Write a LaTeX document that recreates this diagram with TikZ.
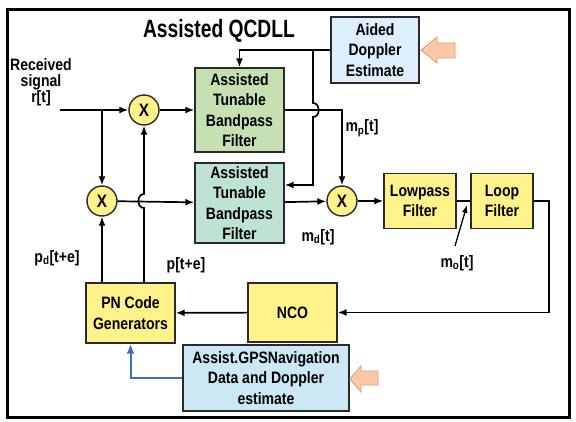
\documentclass[tikz,border=0pt]{standalone}
\usepackage{fontspec}
\setmainfont{Liberation Sans}[FakeStretch=0.85]
\newfontfamily\titlefont{Liberation Sans}[FakeStretch=0.77]
\usetikzlibrary{arrows.meta}
\definecolor{yel}{HTML}{FFF28A}
\definecolor{grnA}{HTML}{C6E0B4}
\definecolor{grnB}{HTML}{BFE3D2}
\definecolor{bluA}{HTML}{DDEFFA}
\definecolor{bluB}{HTML}{CCE8F4}
\definecolor{orf}{HTML}{F9C8A6}
\definecolor{ord}{HTML}{DE9A72}
\definecolor{bline}{HTML}{3F6FC4}
\definecolor{bord}{HTML}{2A2A2A}
\tikzset{
  txt/.style={font=\fontsize{16.5}{20.5}\selectfont\bfseries, inner sep=0pt, align=center},
  boxstyle/.style={txt, draw=bord, line width=1.4pt},
  mult/.style={circle, draw=bord, line width=1.4pt, fill=yel, minimum size=30pt, inner sep=0pt, font=\fontsize{18}{18}\selectfont\bfseries},
  lbl/.style={font=\fontsize{16.5}{18}\selectfont\bfseries, inner sep=0pt, align=center},
  arr/.style={line width=1.7pt, draw=black, -{Latex[length=9pt,width=7pt]}},
  ln/.style={line width=1.7pt, draw=black},
  barr/.style={line width=2pt, draw=bline, -{Latex[length=10pt,width=8pt]}},
  orarrow/.style={fill=orf, draw=ord, line width=0.8pt}
}
\begin{document}
\begin{tikzpicture}[x=1pt,y=-1pt]
\useasboundingbox (0,0) rectangle (576,422);
\draw[line width=3pt] (7,10) rectangle (569,417);

\node[font=\titlefont\fontsize{25}{26}\selectfont\bfseries, inner sep=0pt] (title) at (219,31) {Assisted QCDLL};

% boxes
\node[boxstyle, fill=bluA, minimum width=88pt, minimum height=66pt] (aided) at (375,50) {Aided\\Doppler\\Estimate};
\node[boxstyle, fill=grnA, minimum width=89pt, minimum height=84pt] (filterA) at (239.5,110) {Assisted\\Tunable\\Bandpass\\Filter};
\node[boxstyle, fill=grnB, minimum width=89pt, minimum height=80pt] (filterB) at (239.5,203) {Assisted\\Tunable\\Bandpass\\Filter};
\node[boxstyle, fill=yel, minimum width=72pt, minimum height=55pt] (lowpass) at (420,201) {Lowpass\\Filter};
\node[boxstyle, fill=yel, minimum width=62pt, minimum height=55pt] (loop) at (502,201) {Loop\\Filter};
\node[boxstyle, fill=yel, minimum width=89pt, minimum height=60pt] (PN) at (130.5,313) {PN Code\\Generators};
\node[boxstyle, fill=yel, minimum width=89pt, minimum height=59pt] (NCO) at (292.5,312.5) {NCO};
\node[boxstyle, fill=bluB, minimum width=166pt, minimum height=66pt] (assist) at (266,378) {Assist.GPSNavigation\\Data and Doppler\\estimate};

% multipliers
\node[mult] (mult1) at (144,110) {X};
\node[mult] (mult2) at (102,201) {X};
\node[mult] (mult3) at (342,201) {X};

% orange input arrows
\draw[orarrow] (421,50) -- (437,37) -- (437,43) -- (455,43) -- (455,58) -- (437,58) -- (437,63) -- cycle;
\draw[orarrow] (350,379) -- (361,366) -- (361,371) -- (378,371) -- (378,385) -- (361,385) -- (361,392) -- cycle;

% labels
\node[lbl, font=\fontsize{16.5}{16}\selectfont\bfseries] (recv) at (41,82) {Received\\signal\\r[t]};
\node[lbl] (mp) at (362,128) {m\textsubscript{p}[t]};
\node[lbl] (md) at (318,237) {m\textsubscript{d}[t]};
\node[lbl] (mo) at (457,263) {m\textsubscript{o}[t]};
\node[lbl] (pd) at (57,258) {p\textsubscript{d}[t+e]};
\node[lbl] (pte) at (186,265) {p[t+e]};

% coordinates
\coordinate (in) at (60,110);
\coordinate (br) at (102,110);
\coordinate (b0) at (313,50);
\coordinate (b1) at (313,185);
\coordinate (c1) at (549,201);
\coordinate (mostart) at (455,246);
\coordinate (motip) at (467,205);

% connectors
\draw[arr] (in) -- (mult1);
\draw[arr] (br) -- (mult2);
\draw[arr] (mult1) -- (filterA);
\draw[arr] (mult2) -- (filterB);
\draw[arr] (PN.north -| mult2) -- (mult2);
\draw[arr] (PN.north -| mult1) -- (144,208) .. controls (136.5,208) and (136.5,194) .. (144,194) -- (mult1);
\draw[arr] (filterA.east) -- (filterA.east -| mult3) -- (mult3);
\draw[arr] (aided.west) -- (filterA.north |- aided.west) -- (filterA.north);
\draw[arr] (b0) -- (313,103) .. controls (320.5,103) and (320.5,117) .. (313,117) -- (b1) -- (filterB.east |- b1);
\draw[arr] (filterB) -- (mult3);
\draw[arr] (mult3) -- (lowpass);
\draw[ln] (lowpass) -- (loop);
\draw[arr] (loop.east) -- (c1) -- (c1 |- NCO.east) -- (NCO.east);
\draw[arr] (NCO) -- (PN);
\draw[barr] (assist.west) -| (PN.south);
\draw[line width=1.3pt, -{Latex[length=8pt,width=6pt]}] (mostart) -- (motip);
\end{tikzpicture}
\end{document}
